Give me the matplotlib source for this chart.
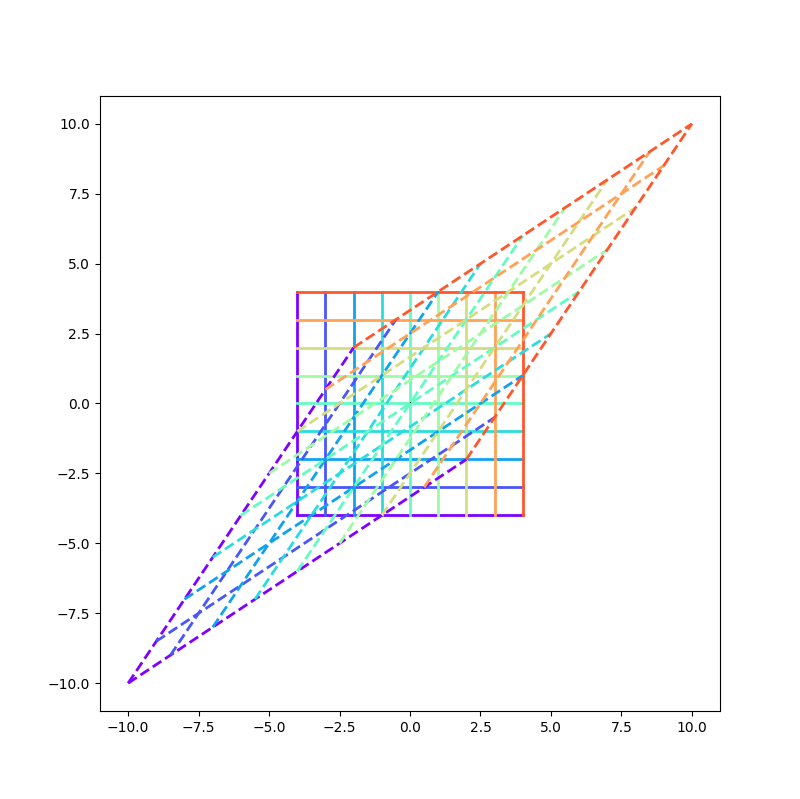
import numpy as np
import matplotlib
matplotlib.use("Agg")
import matplotlib.pyplot as plt

# grid lines at these coordinates
grid_vals = [-4, -3, -2, -1, 0, 1, 2, 3, 4]
# linear map applied to the grid
A = np.array([[1.5, 1.0],
              [1.0, 1.5]])
origin = [0, 0]

n = len(grid_vals)
colors = plt.cm.rainbow(np.arange(n) / n)

fig, ax = plt.subplots(figsize=(8, 7.99), dpi=100)

lo, hi = grid_vals[0], grid_vals[-1]
# original grid
for i, c in enumerate(grid_vals):
    ax.plot([lo, hi], [c, c], color=colors[i], lw=2)
    ax.plot([c, c], [lo, hi], color=colors[i], lw=2)

# transformed grid
for i, c in enumerate(grid_vals):
    h = A @ np.array([[lo, hi], [c, c]])
    v = A @ np.array([[c, c], [lo, hi]])
    ax.plot(h[0], h[1], color=colors[i], ls="--", lw=2)
    ax.plot(v[0], v[1], color=colors[i], ls="--", lw=2)

ax.plot([origin[0]], [origin[1]], "k,")

fig.savefig("out.png")
